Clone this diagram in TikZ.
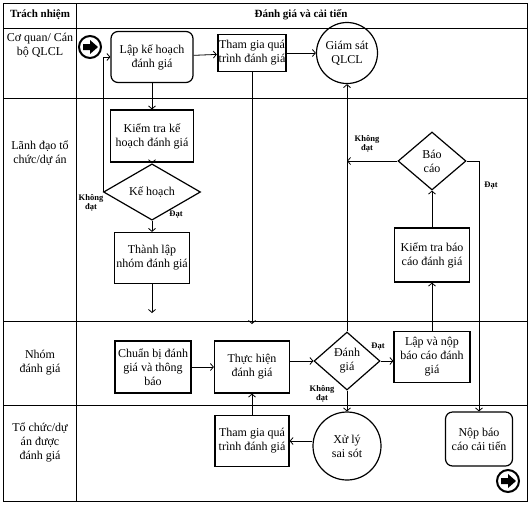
\documentclass[tikz,border=0pt]{standalone}
\usepackage{fontspec}
\setmainfont{Liberation Serif}
\usetikzlibrary{shapes.geometric,arrows.meta}
\begin{document}
\begin{tikzpicture}[x=1pt,y=-1pt,
  lane/.style={line width=1pt},
  txt/.style={font=\fontsize{12}{14}\selectfont, align=center, inner sep=1pt},
  box/.style={txt, draw, line width=1.2pt},
  rbox/.style={box, rounded corners=7pt},
  dia/.style={txt, draw, line width=1.2pt, diamond, inner sep=0pt},
  circ/.style={txt, draw, line width=1.2pt, circle, inner sep=0pt},
  lbl/.style={font=\fontsize{8.5}{9.5}\selectfont\bfseries, align=center, inner sep=0pt},
  hdr/.style={font=\fontsize{11}{13}\selectfont\bfseries, inner sep=0pt},
  lanetxt/.style={font=\fontsize{12}{14}\selectfont, align=center, inner sep=0pt},
  arr/.style={line width=0.8pt, -{Straight Barb[length=3pt,width=7pt]}},
  icon/.style={draw, circle, line width=2pt, minimum size=22pt, inner sep=0pt}
]
\useasboundingbox (0,0) rectangle (529,504);
% lanes
\draw[lane] (3,3) rectangle (527,501);
\draw[lane] (76,3) -- (76,501);
\draw[lane] (3,28) -- (527,28);
\draw[lane] (3,98) -- (527,98);
\draw[lane] (3,321) -- (527,321);
\draw[lane] (3,405) -- (527,405);
% headers
\node[hdr] (h1) at (40,15) {Trách nhiệm};
\node[hdr] (h2) at (301,15) {Đánh giá và cải tiến};
\node[lanetxt] (l1) at (40,45) {Cơ quan/ Cán\\bộ QLCL};
\node[lanetxt] (l2) at (40,153) {Lãnh đạo tổ\\chức/dự án};
\node[lanetxt] (l3) at (40,363) {Nhóm\\đánh giá};
\node[lanetxt] (l4) at (40,442) {Tổ chức/dự\\án được\\đánh giá};
% icons
\node[icon] (start) at (90,47) {};
\fill[shift={(start)}] (-7,-3) -- (0,-3) -- (0,-7) -- (8,0) -- (0,7) -- (0,3) -- (-7,3) -- cycle;
\node[icon] (end) at (508,481) {};
\fill[shift={(end)}] (-7,-3) -- (0,-3) -- (0,-7) -- (8,0) -- (0,7) -- (0,3) -- (-7,3) -- cycle;
% nodes
\node[rbox, minimum width=82pt, minimum height=51pt] (lap) at (152,57) {Lập kế hoạch\\đánh giá};
\node[box, line width=1.7pt, minimum width=67pt, minimum height=37pt] (tg1) at (252,53) {Tham gia quá\\trình đánh giá};
\node[circ, minimum size=61pt] (gs) at (347,53) {Giám sát\\QLCL};
\node[box, minimum width=83pt, minimum height=52pt] (ktkh) at (152,136) {Kiểm tra kế\\hoạch đánh giá};
\node[dia, minimum width=97pt, minimum height=37pt] (kh) at (152,192) {Kế hoạch};
\node[box, minimum width=75pt, minimum height=51pt] (tl) at (152,258) {Thành lập\\nhóm đánh giá};
\node[box, minimum width=76pt, minimum height=52pt] (cb) at (153,367) {Chuẩn bị đánh\\giá và thông\\báo};
\node[box, minimum width=75pt, minimum height=52pt] (th) at (252,367) {Thực hiện\\đánh giá};
\node[dia, minimum width=66pt, minimum height=58pt] (dg) at (347,361) {Đánh\\giá};
\node[box, minimum width=76pt, minimum height=51pt] (lvn) at (432,357) {Lập và nộp\\báo cáo đánh\\giá};
\node[box, minimum width=75pt, minimum height=54pt] (ktbc) at (432,255) {Kiểm tra báo\\cáo đánh giá};
\node[dia, minimum width=68pt, minimum height=58pt] (bc) at (432,161) {Báo\\cáo};
\node[rbox, minimum width=67pt, minimum height=54pt] (nop) at (479,439) {Nộp báo\\cáo cải tiến};
\node[circ, minimum size=68pt] (xl) at (347,446) {Xử lý\\sai sót};
\node[box, minimum width=74pt, minimum height=51pt] (tg2) at (252,441) {Tham gia quá\\trình đánh giá};
% free ends
\coordinate (e1) at (152,313);
\coordinate (e2) at (252,324);
% connectors
\draw[arr] (lap) -- (tg1);
\draw[arr] (tg1.east |- gs.west) -- (gs.west);
\draw[arr] (lap) -- (ktkh);
\draw[arr] (ktkh) -- (kh);
\draw[arr] (kh.west) |- (lap.west);
\draw[arr] (kh) -- (tl);
\draw[arr] (tl) -- (e1);
\draw[arr] (tg1) -- (e2);
\draw[arr] (cb) -- (th);
\draw[arr] (th.east |- dg.west) -- (dg.west);
\draw[arr] (dg.east) -- (dg.east -| lvn.west);
\draw[arr] (dg.north) -- (gs.south);
\draw[arr] (lvn) -- (ktbc);
\draw[arr] (ktbc) -- (bc);
\draw[arr] (bc.west) -- (bc.west -| gs.south);
\draw[arr] (bc.east) -| (nop.north);
\draw[arr] (dg.south) -- (xl.north);
\draw[arr] (xl.west |- tg2.east) -- (tg2.east);
\draw[arr] (tg2) -- (th);
% labels
\node[lbl] (k1) at (91,203) {Không\\đạt};
\node[lbl] (d1) at (176,215) {Đạt};
\node[lbl] (k2) at (367,144) {Không\\đạt};
\node[lbl] (d2) at (491,186) {Đạt};
\node[lbl] (d3) at (378,347) {Đạt};
\node[lbl] (k3) at (322,394) {Không\\đạt};
\end{tikzpicture}
\end{document}
